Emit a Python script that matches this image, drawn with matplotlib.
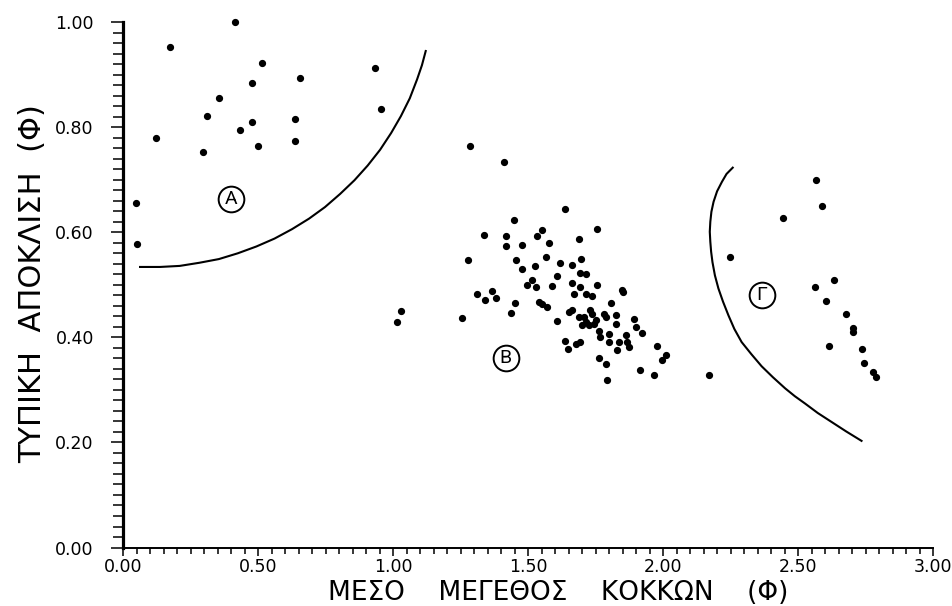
import matplotlib
matplotlib.use("Agg")
import matplotlib.pyplot as plt
from matplotlib.ticker import MultipleLocator

# ---------------- data ----------------
group_a_x = [0.414, 0.175, 0.513, 0.934, 0.655, 0.476, 0.356, 0.957, 0.310,
             0.637, 0.478, 0.432, 0.123, 0.638, 0.500, 0.297, 0.047, 0.052]
group_a_y = [1.000, 0.952, 0.922, 0.912, 0.894, 0.884, 0.856, 0.835, 0.822,
             0.816, 0.809, 0.794, 0.779, 0.773, 0.765, 0.752, 0.656, 0.578]

group_b_x = [1.286, 1.410, 1.637, 1.447, 1.754, 1.335, 1.417, 1.550, 1.534, 1.688,
             1.417, 1.479, 1.577, 1.278, 1.454, 1.565, 1.696, 1.479, 1.524, 1.619,
             1.663, 1.516, 1.497, 1.528, 1.310, 1.368, 1.340, 1.381, 1.452, 1.436,
             1.255, 1.030, 1.016,
             1.608, 1.694, 1.713, 1.590, 1.663, 1.670, 1.694, 1.713, 1.737, 1.756,
             1.848, 1.851, 1.553, 1.571, 1.541, 1.651, 1.663, 1.731, 1.809, 1.608,
             1.707, 1.700, 1.725, 1.744, 1.762, 1.781, 1.787, 1.827, 1.824, 1.768,
             1.799, 1.799, 1.836, 1.861, 1.867, 1.873, 1.891, 1.898, 1.922, 1.830,
             1.637, 1.649, 1.676, 1.694, 1.762, 1.787, 1.794, 1.916, 1.965, 1.978,
             1.996, 2.011, 1.716, 1.690, 1.750, 1.737]
group_b_y = [0.764, 0.733, 0.644, 0.623, 0.606, 0.594, 0.593, 0.604, 0.592, 0.588,
             0.573, 0.575, 0.580, 0.547, 0.547, 0.552, 0.549, 0.531, 0.536, 0.542,
             0.538, 0.510, 0.499, 0.496, 0.483, 0.488, 0.472, 0.474, 0.465, 0.446,
             0.437, 0.450, 0.430,
             0.516, 0.522, 0.521, 0.497, 0.503, 0.483, 0.496, 0.483, 0.478, 0.499,
             0.491, 0.486, 0.464, 0.458, 0.467, 0.448, 0.453, 0.453, 0.465, 0.432,
             0.439, 0.423, 0.423, 0.426, 0.413, 0.445, 0.439, 0.443, 0.426, 0.401,
             0.407, 0.391, 0.391, 0.404, 0.391, 0.382, 0.434, 0.420, 0.408, 0.375,
             0.393, 0.377, 0.388, 0.391, 0.361, 0.350, 0.319, 0.338, 0.329, 0.383,
             0.356, 0.366, 0.430, 0.438, 0.433, 0.445]

group_c_x = [2.566, 2.588, 2.446, 2.249, 2.634, 2.563, 2.603, 2.679, 2.703,
             2.705, 2.613, 2.736, 2.745, 2.778, 2.790, 2.171]
group_c_y = [0.700, 0.650, 0.627, 0.553, 0.510, 0.495, 0.470, 0.445, 0.418,
             0.411, 0.384, 0.377, 0.352, 0.334, 0.324, 0.329]

# boundary curves
bound_a_x = [0.063, 0.137, 0.210, 0.283, 0.355, 0.425, 0.494, 0.561, 0.626,
             0.689, 0.748, 0.804, 0.857, 0.906, 0.952, 0.993, 1.029, 1.062,
             1.089, 1.107, 1.121]
bound_a_y = [0.534, 0.534, 0.536, 0.542, 0.549, 0.560, 0.573, 0.588, 0.606,
             0.626, 0.648, 0.673, 0.699, 0.727, 0.757, 0.789, 0.821, 0.855,
             0.891, 0.918, 0.945]

bound_c_x = [2.258, 2.235, 2.218, 2.200, 2.187, 2.179, 2.175, 2.173, 2.175,
             2.178, 2.183, 2.192, 2.205, 2.222, 2.242, 2.264, 2.291, 2.327,
             2.365, 2.407, 2.452, 2.488, 2.526, 2.573, 2.624, 2.678, 2.735]
bound_c_y = [0.723, 0.711, 0.696, 0.678, 0.658, 0.639, 0.620, 0.601, 0.582,
             0.563, 0.543, 0.518, 0.493, 0.468, 0.442, 0.416, 0.391, 0.368,
             0.345, 0.324, 0.303, 0.288, 0.274, 0.256, 0.239, 0.221, 0.203]

region_labels = ["Α", "Β", "Γ"]
region_label_x = [0.400, 1.417, 2.365]
region_label_y = [0.663, 0.361, 0.480]

x_ticks = [0.0, 0.5, 1.0, 1.5, 2.0, 2.5, 3.0]
x_tick_labels = ["0.00", "0.50", "1.00", "1.50", "2.00", "2.50", "3.00"]
y_ticks = [0.0, 0.2, 0.4, 0.6, 0.8, 1.0]
y_tick_labels = ["0.00", "0.20", "0.40", "0.60", "0.80", "1.00"]

x_label = "ΜΕΣΟ    ΜΕΓΕΘΟΣ    ΚΟΚΚΩΝ    (Φ)"
y_label = "ΤΥΠΙΚΗ  ΑΠΟΚΛΙΣΗ  (Φ)"

LABEL_FONT = ["DejaVu Sans"]

# ---------------- figure ----------------
fig = plt.figure(figsize=(9.53, 6.06), dpi=100)
ax = fig.add_axes([0.1291, 0.0965, 0.85, 0.867])

ax.set_xlim(0, 3.0)
ax.set_ylim(0, 1.0)

for xs, ys in [(group_a_x, group_a_y), (group_b_x, group_b_y), (group_c_x, group_c_y)]:
    ax.plot(xs, ys, linestyle="none", marker="o", markersize=4.2,
            color="black", clip_on=False)

ax.plot(bound_a_x, bound_a_y, color="black", lw=1.5)
ax.plot(bound_c_x, bound_c_y, color="black", lw=1.5)

for lab, lx, ly in zip(region_labels, region_label_x, region_label_y):
    ax.plot([lx], [ly], marker="o", markersize=18.5, mfc="none",
            mec="black", mew=1.4, linestyle="none")
    ax.text(lx, ly, lab, ha="center", va="center", fontsize=14,
            family=["Roboto", "DejaVu Sans"])

# spines
for side in ["top", "right"]:
    ax.spines[side].set_visible(False)
ax.spines["left"].set_linewidth(2.3)
ax.spines["bottom"].set_linewidth(1.4)

ax.set_xticks(x_ticks)
ax.set_xticklabels(x_tick_labels)
ax.set_yticks(y_ticks)
ax.set_yticklabels(y_tick_labels)
ax.xaxis.set_minor_locator(MultipleLocator(0.05))
ax.yaxis.set_minor_locator(MultipleLocator(0.02))

ax.tick_params(axis="x", which="major", direction="out", length=5.5, width=1.1,
               pad=2, labelsize=12.5)
ax.tick_params(axis="x", which="minor", direction="out", length=4, width=1.1)
ax.tick_params(axis="y", which="major", direction="out", length=9, width=1.1,
               pad=12, labelsize=12.5)
ax.tick_params(axis="y", which="minor", direction="out", length=7, width=1.1)

for t in ax.get_xticklabels() + ax.get_yticklabels():
    t.set_family(["DejaVu Sans"])

ax.set_xlabel(x_label, fontsize=19, family=LABEL_FONT, va="baseline")
ax.xaxis.set_label_coords(0.537, -0.099)
ax.set_ylabel(y_label, fontsize=22, family=LABEL_FONT, va="center")
ax.yaxis.set_label_coords(-0.111, 0.503)

fig.savefig("out.png", dpi=100, facecolor="white")
